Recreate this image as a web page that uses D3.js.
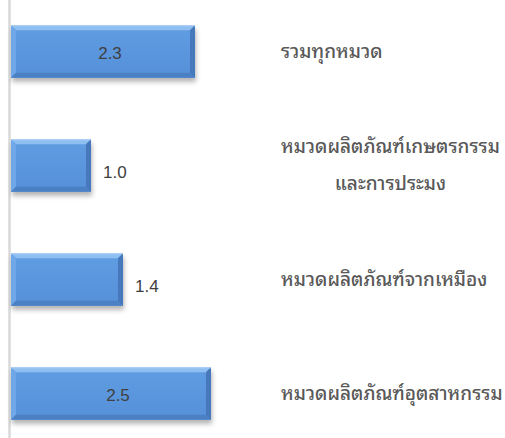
<!DOCTYPE html>
<html>
<head>
<meta charset="utf-8">
<script src="https://cdn.jsdelivr.net/npm/d3@7"></script>
<style>
  html, body { margin: 0; padding: 0; background: #fff; }
</style>
</head>
<body>
<div id="chart"></div>
<script>
// data
var categories = [
  ["รวมทุกหมวด"],
  ["หมวดผลิตภัณฑ์เกษตรกรรม", "และการประมง"],
  ["หมวดผลิตภัณฑ์จากเหมือง"],
  ["หมวดผลิตภัณฑ์อุตสาหกรรม"]
];
var values = [2.3, 1.0, 1.4, 2.5];

var width = 505, height = 438;
var thaiFont = "'Noto Sans Thai Looped', 'Noto Sans Thai', sans-serif";

var svg = d3.select("#chart").append("svg")
  .attr("width", width)
  .attr("height", height);

var defs = svg.append("defs");
var shadow = defs.append("filter").attr("id", "shadow")
  .attr("x", "-10%").attr("y", "-20%").attr("width", "130%").attr("height", "160%");
shadow.append("feDropShadow")
  .attr("dx", 1).attr("dy", 4)
  .attr("stdDeviation", 2.5)
  .attr("flood-color", "#000")
  .attr("flood-opacity", 0.3);

var grad = defs.append("linearGradient").attr("id", "barFill")
  .attr("x1", 0).attr("y1", 0).attr("x2", 0).attr("y2", 1);
grad.append("stop").attr("offset", "0%").attr("stop-color", "#5f9de2");
grad.append("stop").attr("offset", "100%").attr("stop-color", "#5690d8");

var ids = d3.range(values.length);

var y = d3.scaleBand()
  .domain(ids)
  .range([-5.5, 450.5])
  .paddingInner(0.54)
  .paddingOuter(0.27);

var x = d3.scaleLinear()
  .domain([0, 3])
  .range([11, 251]);

// axis line
svg.append("line")
  .attr("x1", x(0) - 1.5).attr("x2", x(0) - 1.5)
  .attr("y1", 0).attr("y2", height)
  .attr("stroke", "#d9d9d9")
  .attr("stroke-width", 2.5);

var bev = 5;
var bars = svg.append("g").attr("class", "bars")
  .selectAll("g")
  .data(ids)
  .enter()
  .append("g");

bars.append("rect")
  .attr("x", x(0))
  .attr("y", function (i) { return y(i); })
  .attr("width", function (i) { return x(values[i]) - x(0); })
  .attr("height", y.bandwidth())
  .attr("fill", "url(#barFill)")
  .attr("filter", "url(#shadow)");

// bevel faces
function face(i, side) {
  var x0 = x(0), x1 = x(values[i]), y0 = y(i), y1 = y(i) + y.bandwidth();
  var p;
  if (side === "top") p = [[x0, y0], [x1, y0], [x1 - bev, y0 + bev], [x0 + bev, y0 + bev]];
  else if (side === "bottom") p = [[x0, y1], [x1, y1], [x1 - bev, y1 - bev], [x0 + bev, y1 - bev]];
  else if (side === "left") p = [[x0, y0], [x0 + bev, y0 + bev], [x0 + bev, y1 - bev], [x0, y1]];
  else p = [[x1, y0], [x1 - bev, y0 + bev], [x1 - bev, y1 - bev], [x1, y1]];
  return "M" + p.join("L") + "Z";
}
var faceColors = { top: "#8fbef0", left: "#6ea8e8", bottom: "#4b80c4", right: "#4678bb" };
["top", "left", "bottom", "right"].forEach(function (side) {
  bars.append("path")
    .attr("d", function (i) { return face(i, side); })
    .attr("fill", faceColors[side]);
});
bars.append("line")
  .attr("x1", x(0)).attr("x2", function (i) { return x(values[i]); })
  .attr("y1", function (i) { return y(i) + 0.5; })
  .attr("y2", function (i) { return y(i) + 0.5; })
  .attr("stroke", "#b3d4f7").attr("stroke-width", 1);

// value labels
svg.append("g").attr("class", "values")
  .selectAll("text")
  .data(ids)
  .enter()
  .append("text")
  .attr("x", function (i) {
    return values[i] >= 2 ? (x(0) + x(values[i])) / 2 + 7 : x(values[i]) + 12;
  })
  .attr("y", function (i) {
    return y(i) + y.bandwidth() / 2 + (values[i] >= 2 ? 7 : 12);
  })
  .attr("text-anchor", function (i) { return values[i] >= 2 ? "middle" : "start"; })
  .style("font-family", "'Liberation Sans', Arial, sans-serif")
  .style("font-size", "17px")
  .style("fill", "#404040")
  .text(function (i) { return values[i].toFixed(1); });

// category labels
var lineGap = 37;
var labels = svg.append("g").attr("class", "labels")
  .selectAll("text")
  .data(ids)
  .enter()
  .append("text")
  .style("font-family", thaiFont)
  .style("font-size", "19px")
  .style("font-weight", "500")
  .style("fill", "#595959");

labels.each(function (i) {
  var t = d3.select(this);
  var lines = categories[i];
  var cy = y(i) + y.bandwidth() / 2;
  lines.forEach(function (s, k) {
    t.append("tspan")
      .attr("x", 281)
      .attr("y", cy + (k - (lines.length - 1) / 2) * lineGap + 6)
      .text(s);
  });
  if (lines.length > 1) {
    var spans = t.selectAll("tspan").nodes();
    var w = spans.map(function (n) { return n.getComputedTextLength(); });
    var wMax = d3.max(w);
    spans.forEach(function (n, k) {
      d3.select(n).attr("x", 281 + (wMax - w[k]) / 2);
    });
  }
});
</script>
</body>
</html>
